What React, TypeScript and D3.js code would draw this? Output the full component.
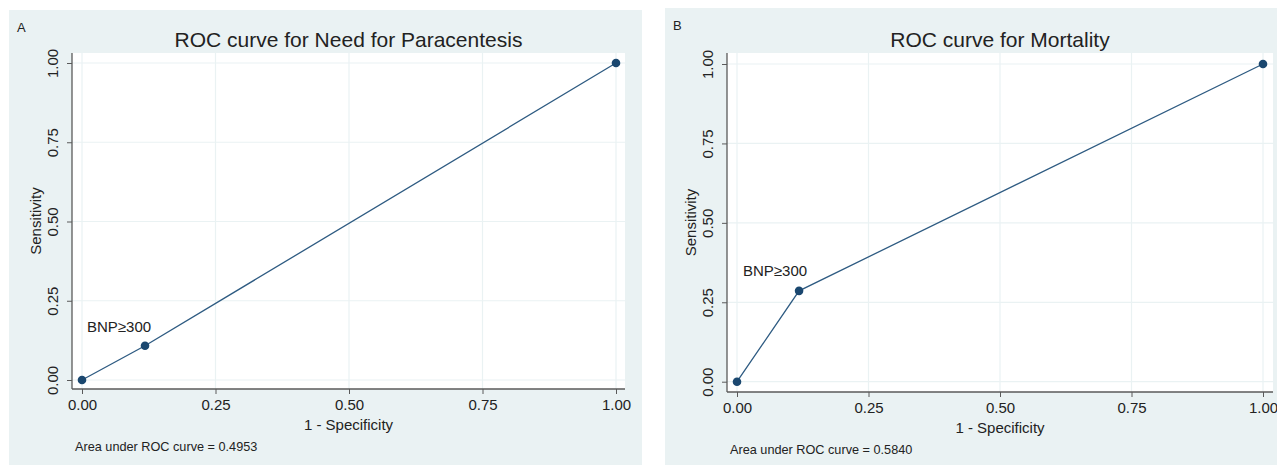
import React, { useRef, useEffect } from "react";
import * as d3 from "d3";

// data
const fprA = [0, 0.118, 1];
const tprA = [0, 0.108, 1];
const fprB = [0, 0.118, 1];
const tprB = [0, 0.286, 1];
const tickValues = [0, 0.25, 0.5, 0.75, 1];
const tickLabels = ["0.00", "0.25", "0.50", "0.75", "1.00"];
const cutLabel = "BNP\u2265300";

const FONT = "'Liberation Sans', Arial, Helvetica, sans-serif";
const BG = "#eaf2f3";
const NAVY = "#1a476f";
const LINE = "#2e5b82";
const AXIS = "#5a5a5a";

type PanelProps = {
  letter: string;
  title: string;
  auc: string;
  fpr: number[];
  tpr: number[];
  box: [number, number, number, number]; // x0, y0, x1, y1
  plot: [number, number, number, number];
  xr: [number, number];
  yr: [number, number];
  labelPos: [number, number];
};

function Panel(p: PanelProps) {
  const gRef = useRef<SVGGElement>(null);

  useEffect(() => {
    const g = d3.select(gRef.current);
    g.selectAll("*").remove();

    const [bx0, by0, bx1, by1] = p.box;
    const [px0, py0, px1, py1] = p.plot;

    const x = d3.scaleLinear().domain([0, 1]).range(p.xr);
    const y = d3.scaleLinear().domain([0, 1]).range(p.yr);

    // graph region
    g.append("rect")
      .attr("x", bx0).attr("y", by0)
      .attr("width", bx1 - bx0).attr("height", by1 - by0)
      .attr("fill", BG);

    // plot region
    g.append("rect")
      .attr("x", px0).attr("y", py0)
      .attr("width", px1 - px0).attr("height", py1 - py0)
      .attr("fill", "#fff");

    // grid
    const grid = g.append("g").attr("stroke", BG).attr("stroke-width", 1.2);
    grid.selectAll("line.v").data(tickValues).join("line")
      .attr("class", "v")
      .attr("x1", d => x(d)).attr("x2", d => x(d))
      .attr("y1", py0).attr("y2", py1);
    grid.selectAll("line.h").data(tickValues).join("line")
      .attr("class", "h")
      .attr("y1", d => y(d)).attr("y2", d => y(d))
      .attr("x1", px0).attr("x2", px1);

    // X axis
    const xAxis = g.append("g")
      .attr("transform", `translate(0,${py1})`)
      .call(d3.axisBottom(x).tickValues(tickValues).tickSize(5).tickPadding(5)
        .tickFormat((_, i) => tickLabels[i]))
      .call(sel => sel.select(".domain").remove());
    xAxis.append("line")
      .attr("x1", px0).attr("x2", px1)
      .attr("stroke", AXIS).attr("stroke-width", 1.3);
    xAxis.selectAll(".tick line").attr("stroke", AXIS);
    xAxis.selectAll("text")
      .attr("fill", "#222")
      .attr("font-size", 15)
      .attr("font-family", FONT);

    // Y axis
    const yAxis = g.append("g")
      .attr("transform", `translate(${px0},0)`)
      .call(d3.axisLeft(y).tickValues(tickValues).tickSize(5)
        .tickFormat((_, i) => tickLabels[i]))
      .call(sel => sel.select(".domain").remove());
    yAxis.append("line")
      .attr("y1", py0).attr("y2", py1)
      .attr("stroke", AXIS).attr("stroke-width", 1.3);
    yAxis.selectAll(".tick line").attr("stroke", AXIS);
    yAxis.selectAll("text")
      .attr("fill", "#222")
      .attr("font-size", 15)
      .attr("font-family", FONT)
      .attr("x", 0).attr("dy", 0)
      .attr("text-anchor", "middle")
      .attr("transform", "translate(-14,0) rotate(-90)");

    // curve
    const pts = p.fpr.map((f, i) => [f, p.tpr[i]] as [number, number]);
    g.append("path")
      .datum(pts)
      .attr("fill", "none")
      .attr("stroke", LINE)
      .attr("stroke-width", 1.3)
      .attr("d", d3.line<[number, number]>().x(d => x(d[0])).y(d => y(d[1])));

    g.append("g").attr("fill", NAVY)
      .selectAll("circle").data(pts).join("circle")
      .attr("cx", d => x(d[0])).attr("cy", d => y(d[1])).attr("r", 4.3);

    // cut-point label
    g.append("text")
      .attr("x", p.labelPos[0]).attr("y", p.labelPos[1])
      .attr("font-family", FONT).attr("font-size", 15).attr("fill", "#222")
      .text(cutLabel);

    // titles and notes
    const cx = (px0 + px1) / 2;
    g.append("text")
      .attr("x", cx).attr("y", 47)
      .attr("text-anchor", "middle")
      .attr("font-family", FONT).attr("font-size", 21).attr("fill", "#222")
      .text(p.title);

    g.append("text")
      .attr("x", cx).attr("y", py1 + 41)
      .attr("text-anchor", "middle")
      .attr("font-family", FONT).attr("font-size", 15).attr("fill", "#222")
      .text("1 - Specificity");

    g.append("text")
      .attr("transform", `translate(${px0 - 31},${(py0 + py1) / 2}) rotate(-90)`)
      .attr("text-anchor", "middle")
      .attr("font-family", FONT).attr("font-size", 15).attr("fill", "#222")
      .text("Sensitivity");

    g.append("text")
      .attr("x", px0 + 3).attr("y", py1 + 62)
      .attr("font-family", FONT).attr("font-size", 12.7).attr("fill", "#222")
      .text(`Area under ROC curve = ${p.auc}`);

    g.append("text")
      .attr("x", bx0 + 8).attr("y", by0 + 22)
      .attr("font-family", FONT).attr("font-size", 13).attr("fill", "#222")
      .text(p.letter);
  }, [p]);

  return <g ref={gRef}></g>;
}

export default function App() {
  return (
    <svg width={1277} height={466}
      style={{ position: "absolute", left: 0, top: 0, display: "block", background: "#fff" }}>
      <Panel letter="A" title="ROC curve for Need for Paracentesis" auc="0.4953"
        fpr={fprA} tpr={tprA}
        box={[9, 10, 642, 465]} plot={[72, 53, 625, 389]}
        xr={[82, 616]} yr={[380, 63]} labelPos={[87, 331.5]} />
      <Panel letter="B" title="ROC curve for Mortality" auc="0.5840"
        fpr={fprB} tpr={tprB}
        box={[665, 8, 1277, 465]} plot={[727, 53, 1273, 392]}
        xr={[737, 1263]} yr={[381.7, 64]} labelPos={[743, 275.5]} />
    </svg>
  );
}
